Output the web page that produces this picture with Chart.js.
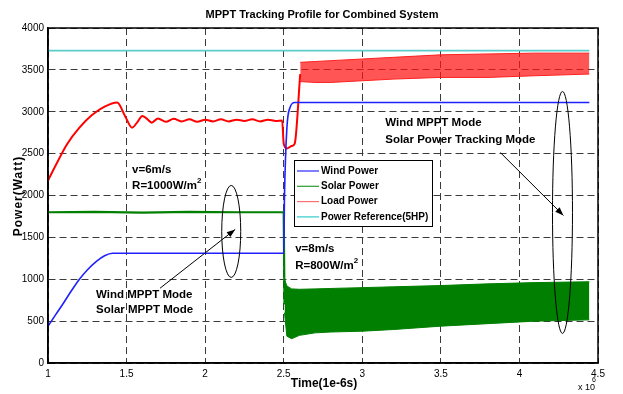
<!DOCTYPE html>
<html lang="en">
<head>
    <meta charset="UTF-8">
    <title>MPPT Tracking Profile</title>
    <style>
        body { margin: 0; background: #fff; }
        canvas { display: block; }
    </style>
    <script src="https://cdn.jsdelivr.net/npm/chart.js"></script>
</head>
<body>
    <canvas id="grafico" width="623" height="394"></canvas>

    <script>
        // time axis is in units of 1e6 * 1e-6 s
        const windX = [1, 1.05, 1.1, 1.15, 1.2, 1.25, 1.31, 1.36, 1.41, 2.5, 2.505, 2.52, 2.54, 2.57, 4.445];
        const windY = [440, 580, 720, 865, 1000, 1110, 1215, 1280, 1310, 1310, 2000, 2800, 3050, 3110, 3110];

        const solarX = [1, 1.3, 1.6, 1.9, 2.2, 2.5, 2.505];
        const solarY = [1800, 1805, 1795, 1805, 1800, 1800, 700];

        const bandX = [2.505, 2.52, 2.55, 2.6, 2.7, 2.8, 3.0, 3.2, 3.5, 3.8, 4.1, 4.445];
        const solarTop = [1000, 920, 885, 880, 885, 890, 900, 910, 925, 945, 960, 970];
        const solarBottom = [600, 320, 290, 330, 360, 370, 380, 400, 440, 470, 500, 515];

        const loadX = [1, 1.06, 1.12, 1.2, 1.28, 1.36, 1.44, 1.49, 1.535, 1.57, 1.6, 1.63, 1.66, 1.7,
            1.75, 1.8, 1.85, 1.9, 1.95, 2.0, 2.05, 2.1, 2.15, 2.2, 2.25, 2.3, 2.35, 2.4, 2.45, 2.49,
            2.5, 2.52, 2.55, 2.57, 2.605];
        const loadY = [2180, 2400, 2610, 2810, 2960, 3060, 3110, 2950, 2810, 2880, 2950, 2915, 2870, 2920,
            2880, 2915, 2885, 2910, 2880, 2905, 2885, 2910, 2885, 2905, 2890, 2910, 2885, 2905, 2890, 2895,
            2620, 2560, 2590, 2620, 3450];

        const loadBandX = [2.605, 2.7, 2.8, 3.0, 3.2, 3.5, 3.8, 4.1, 4.445];
        const loadTop = [3590, 3600, 3610, 3630, 3650, 3680, 3690, 3700, 3700];
        const loadBottom = [3360, 3350, 3350, 3370, 3390, 3410, 3410, 3430, 3450];

        const refX = [1, 4.445];
        const refY = [3730, 3730];

        const etichette = ["Wind Power", "Solar Power", "Load Power", "Power Reference(5HP)"];
        const coloriLegenda = ["#2a2aff", "#2e9a2e", "#ff7070", "#30cccc"];

        const xTicks = [1, 1.5, 2, 2.5, 3, 3.5, 4, 4.5];
        const yTicks = [0, 500, 1000, 1500, 2000, 2500, 3000, 3500, 4000];

        function punti(xs, ys) {
            return xs.map((x, i) => ({ x: x, y: ys[i] }));
        }

        const fontBase = '"Liberation Sans", Arial, sans-serif';

        // text annotations in data coordinates
        const note = [
            { t: "v=6m/s", x: 1.535, y: 2274 },
            { t: "R=1000W/m", x: 1.535, y: 2083, sup: "2" },
            { t: "v=8m/s", x: 2.573, y: 1321 },
            { t: "R=800W/m", x: 2.573, y: 1119, sup: "2" },
            { t: "Wind MPPT Mode", x: 1.306, y: 774 },
            { t: "Solar MPPT Mode", x: 1.306, y: 595 },
            { t: "Wind MPPT Mode", x: 3.146, y: 2833 },
            { t: "Solar Power Tracking Mode", x: 3.146, y: 2631 }
        ];
        const ellissi = [
            { x: 2.166, y: 1571, rx: 9.5, ry: 46 },
            { x: 4.274, y: 1798, rx: 10, ry: 121 }
        ];
        const frecce = [
            { x1: 1.713, y1: 893, x2: 2.191, y2: 1595 },
            { x1: 3.879, y1: 2512, x2: 4.280, y2: 1762 }
        ];

        const decorazioni = {
            id: "decorazioni",
            afterDraw(chart) {
                const ctx = chart.ctx;
                const a = chart.chartArea;
                const sx = chart.scales.x, sy = chart.scales.y;
                ctx.save();

                // box around plot
                ctx.strokeStyle = "#000";
                ctx.lineWidth = 1.5;
                ctx.strokeRect(a.left, a.top, a.right - a.left, a.bottom - a.top);

                // title + axis titles
                ctx.fillStyle = "#000";
                ctx.textAlign = "center";
                ctx.textBaseline = "alphabetic";
                ctx.font = "bold 11px " + fontBase;
                ctx.fillText("MPPT Tracking Profile for Combined System", 322, 18);
                ctx.font = "bold 12px " + fontBase;
                ctx.fillText("Time(1e-6s)", 324, 387);

                ctx.save();
                ctx.translate(22, 196);
                ctx.rotate(-Math.PI / 2);
                ctx.letterSpacing = "1px";
                ctx.fillText("Power(Watt)", 0, 0);
                ctx.restore();

                ctx.font = "9px " + fontBase;
                ctx.textAlign = "left";
                ctx.fillText("x 10", 578, 390);
                ctx.font = "7px " + fontBase;
                ctx.fillText("6", 592, 382);

                // annotations
                note.forEach(n => {
                    const px = sx.getPixelForValue(n.x), py = sy.getPixelForValue(n.y);
                    ctx.font = "bold 11.5px " + fontBase;
                    ctx.fillText(n.t, px, py);
                    if (n.sup) {
                        const w = ctx.measureText(n.t).width;
                        ctx.font = "bold 8px " + fontBase;
                        ctx.fillText(n.sup, px + w, py - 6);
                    }
                });

                ctx.lineWidth = 1;
                ctx.strokeStyle = "#000";
                ellissi.forEach(e => {
                    ctx.beginPath();
                    ctx.ellipse(sx.getPixelForValue(e.x), sy.getPixelForValue(e.y), e.rx, e.ry, 0, 0, Math.PI * 2);
                    ctx.stroke();
                });
                frecce.forEach(f => {
                    const x1 = sx.getPixelForValue(f.x1), y1 = sy.getPixelForValue(f.y1);
                    const x2 = sx.getPixelForValue(f.x2), y2 = sy.getPixelForValue(f.y2);
                    ctx.beginPath();
                    ctx.moveTo(x1, y1);
                    ctx.lineTo(x2, y2);
                    ctx.stroke();
                    const ang = Math.atan2(y2 - y1, x2 - x1);
                    ctx.beginPath();
                    ctx.moveTo(x2, y2);
                    ctx.lineTo(x2 - 9 * Math.cos(ang - 0.35), y2 - 9 * Math.sin(ang - 0.35));
                    ctx.lineTo(x2 - 9 * Math.cos(ang + 0.35), y2 - 9 * Math.sin(ang + 0.35));
                    ctx.closePath();
                    ctx.fillStyle = "#000";
                    ctx.fill();
                });

                // legend box
                const lx = 294, ly = 160, lw = 138, lh = 66;
                ctx.fillStyle = "#fff";
                ctx.fillRect(lx, ly, lw, lh);
                ctx.lineWidth = 1;
                ctx.strokeRect(lx + 0.5, ly + 0.5, lw, lh);
                ctx.font = "bold 10px " + fontBase;
                ctx.textBaseline = "middle";
                etichette.forEach((lab, i) => {
                    const y = ly + 11 + i * 15.3;
                    ctx.strokeStyle = coloriLegenda[i];
                    ctx.lineWidth = 1.2;
                    ctx.beginPath();
                    ctx.moveTo(lx + 3, y);
                    ctx.lineTo(lx + 25, y);
                    ctx.stroke();
                    ctx.fillStyle = "#000";
                    ctx.fillText(lab, lx + 27, y);
                });
                ctx.restore();
            }
        };

        const ctx = document.getElementById("grafico").getContext("2d");

        new Chart(ctx, {
            type: "line",
            data: {
                datasets: [
                    { label: "Wind Power", data: punti(windX, windY), borderColor: "#2020ff", borderWidth: 1.6, cubicInterpolationMode: "monotone" },
                    { label: "Solar Power", data: punti(solarX, solarY), borderColor: "#007f00", borderWidth: 2.2 },
                    { label: "Load Power", data: punti(loadX, loadY), borderColor: "#ff0000", borderWidth: 2, cubicInterpolationMode: "monotone" },
                    { label: "Power Reference(5HP)", data: punti(refX, refY), borderColor: "#5ccccc", borderWidth: 1.6 },
                    { label: "solarTop", data: punti(bandX, solarTop), borderColor: "#007f00", borderWidth: 1 },
                    { label: "solarBottom", data: punti(bandX, solarBottom), borderColor: "#007f00", borderWidth: 1, fill: "-1", backgroundColor: "#007f00" },
                    { label: "loadTop", data: punti(loadBandX, loadTop), borderColor: "#ff2020", borderWidth: 1 },
                    { label: "loadBottom", data: punti(loadBandX, loadBottom), borderColor: "#ff2020", borderWidth: 1, fill: "-1", backgroundColor: "rgba(255,20,20,0.72)" }
                ]
            },
            options: {
                responsive: false,
                animation: false,
                elements: { point: { radius: 0 } },
                layout: { padding: { top: 28, right: 25, left: 0, bottom: 0 } },
                plugins: {
                    legend: { display: false },
                    tooltip: { enabled: false }
                },
                scales: {
                    x: {
                        type: "linear",
                        min: 1,
                        max: 4.5,
                        afterFit: s => { s.height = 31; },
                        afterBuildTicks: s => { s.ticks = xTicks.map(v => ({ value: v })); },
                        ticks: { color: "#000", padding: 5, font: { size: 10, family: fontBase }, maxRotation: 0, callback: v => String(v) },
                        grid: { color: "#3a3a3a", lineWidth: 1, drawTicks: false },
                        border: { display: true, color: "#000", width: 1.5, dash: [7, 4] }
                    },
                    y: {
                        min: 0,
                        max: 4000,
                        afterFit: s => { s.width = 48; },
                        afterBuildTicks: s => { s.ticks = yTicks.map(v => ({ value: v })); },
                        ticks: { color: "#000", padding: 4, font: { size: 10, family: fontBase }, callback: v => String(v) },
                        grid: { color: "#3a3a3a", lineWidth: 1, drawTicks: false },
                        border: { display: true, color: "#000", width: 1.5, dash: [7, 4] }
                    }
                }
            },
            plugins: [decorazioni]
        });
    </script>
</body>
</html>
